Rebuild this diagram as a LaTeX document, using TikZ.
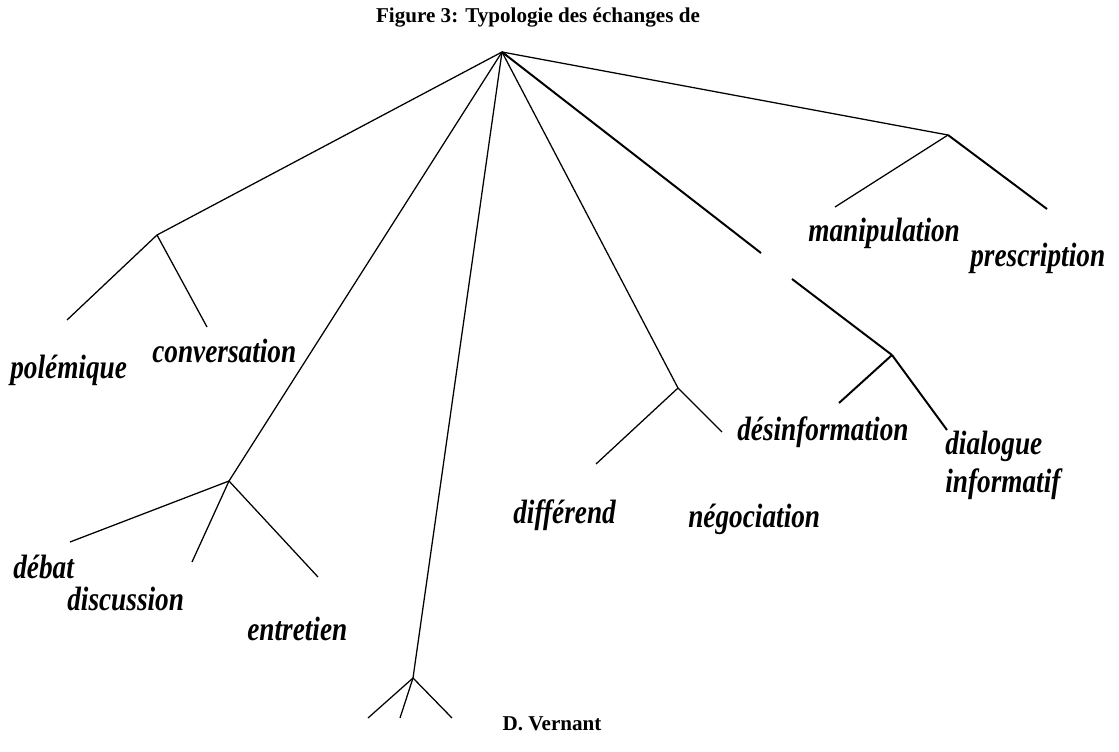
\documentclass[tikz,border=0pt]{standalone}
\usepackage{fontspec}
\setmainfont{Liberation Serif}
\usepackage{graphicx}
\usepackage{tikz}
\usetikzlibrary{positioning}
\newcommand{\tall}[1]{\scalebox{0.97}[1.2]{#1}}

\begin{document}
\begin{tikzpicture}[
	x=0.025cm, y=-0.025cm,
	branch/.style = {draw, line width=0.9pt},
	heavy/.style = {draw, line width=1.4pt},
	leaf/.style = {anchor=base west, inner sep=0pt, font=\fontsize{20}{22}\selectfont\bfseries\itshape},
	caption/.style = {anchor=base, inner sep=0pt, font=\fontsize{15}{17}\selectfont\bfseries}
]
  \useasboundingbox (0,0) rectangle (1119,751);

  % Define vertices
  \coordinate (root) at (502, 52);
  \coordinate (conv) at (157, 235);
  \coordinate (disc) at (229, 481);
  \coordinate (low) at (413, 678);
  \coordinate (neg) at (678, 388);
  \coordinate (info) at (892, 355);
  \coordinate (presc) at (948, 135);

  % Free ends
  \coordinate (conv1) at (67, 320);
  \coordinate (conv2) at (207, 327);
  \coordinate (disc1) at (70, 542);
  \coordinate (disc2) at (192, 562);
  \coordinate (disc3) at (318, 577);
  \coordinate (low1) at (368, 718);
  \coordinate (low2) at (400, 718);
  \coordinate (low3) at (452, 718);
  \coordinate (neg1) at (596, 464);
  \coordinate (neg2) at (722, 432);
  \coordinate (gapa) at (761, 253);
  \coordinate (gapb) at (792, 279);
  \coordinate (info1) at (839, 403);
  \coordinate (info2) at (947, 430);
  \coordinate (presc1) at (835, 207);
  \coordinate (presc2) at (1047, 209);

  % Labels
  \node[caption] (title) at (538, 22) {Figure 3: Typologie des échanges de};
  \node[caption] (author) at (552, 730) {D. Vernant};
  \node[leaf] (polem) at (10, 378) {\tall{polémique}};
  \node[leaf] (conversation) at (152, 362) {\tall{conversation}};
  \node[leaf] (debat) at (13, 578) {\tall{débat}};
  \node[leaf] (discussion) at (67, 610) {\tall{discussion}};
  \node[leaf] (entretien) at (247, 640) {\tall{entretien}};
  \node[leaf] (differend) at (513, 523) {\tall{différend}};
  \node[leaf] (negociation) at (688, 527) {\tall{négociation}};
  \node[leaf] (desinfo) at (737, 440) {\tall{désinformation}};
  \node[leaf] (dialogue) at (945, 454) {\tall{dialogue}};
  \node[leaf] (informatif) at (945, 492) {\tall{informatif}};
  \node[leaf] (manip) at (808, 241) {\tall{manipulation}};
  \node[leaf] (prescription) at (970, 266) {\tall{prescription}};

  \draw[branch] (root) -- (conv);
  \draw[branch] (root) -- (disc);
  \draw[branch] (root) -- (low);
  \draw[branch] (root) -- (neg);
  \draw[heavy] (root) -- (gapa);
  \draw[heavy] (gapb) -- (info);
  \draw[branch] (root) -- (presc);

  \draw[branch] (conv) -- (conv1);
  \draw[branch] (conv) -- (conv2);
  \draw[branch] (disc) -- (disc1);
  \draw[branch] (disc) -- (disc2);
  \draw[branch] (disc) -- (disc3);
  \draw[branch] (low) -- (low1);
  \draw[branch] (low) -- (low2);
  \draw[branch] (low) -- (low3);
  \draw[branch] (neg) -- (neg1);
  \draw[branch] (neg) -- (neg2);
  \draw[heavy] (info) -- (info1);
  \draw[heavy] (info) -- (info2);
  \draw[branch] (presc) -- (presc1);
  \draw[heavy] (presc) -- (presc2);
\end{tikzpicture}
\end{document}
